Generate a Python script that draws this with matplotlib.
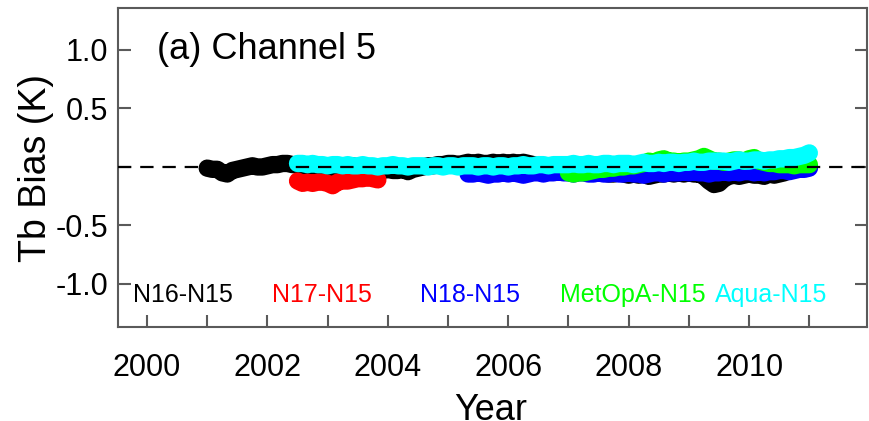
import numpy as np
import matplotlib
matplotlib.use("Agg")
import matplotlib.pyplot as plt
from matplotlib import font_manager

# ---------------- data (monthly values) ----------------
n16_start = 2001.0
n16 = [-0.01, -0.02, -0.02, -0.05, -0.06, -0.03, -0.02, -0.01, 0.00, 0.01, 0.00, 0.00,
       0.01, 0.02, 0.02, 0.03, 0.03, 0.02, 0.02, 0.01, 0.00, 0.00, 0.01, 0.00,
       -0.01, 0.00, 0.00, -0.01, 0.00, 0.01, 0.00, -0.01, -0.02, -0.03, -0.02, -0.03,
       -0.02, -0.03, -0.03, -0.02, -0.04, -0.02, -0.01, 0.00, 0.01, 0.01, 0.02, 0.02,
       0.03, 0.03, 0.02, 0.03, 0.04, 0.03, 0.04, 0.03, 0.03, 0.04, 0.03, 0.04,
       0.03, 0.04, 0.03, 0.04, 0.03, 0.02, 0.01, 0.00, 0.00, -0.01, -0.02, -0.02,
       -0.03, -0.03, -0.04, -0.04, -0.05, -0.05, -0.04, -0.05, -0.06, -0.06, -0.05, -0.06,
       -0.07, -0.06, -0.07, -0.06, -0.08, -0.07, -0.06, -0.06, -0.05, -0.06, -0.05, -0.06,
       -0.05, -0.06, -0.06, -0.08, -0.12, -0.15, -0.14, -0.10, -0.08, -0.07, -0.08, -0.07,
       -0.06, -0.07, -0.07, -0.08, -0.06, -0.07, -0.06, -0.05, -0.03, -0.02, -0.02, -0.01,
       0.00]

n17_start = 2002.5
n17 = [-0.12, -0.14, -0.13, -0.14, -0.13, -0.13, -0.14, -0.16, -0.13, -0.12,
       -0.12, -0.11, -0.10, -0.10, -0.09, -0.10, -0.11]

n18_start = 2005.0 + 4 / 12
n18 = [-0.06, -0.06, -0.05, -0.06, -0.07, -0.06, -0.06, -0.05,
       -0.06, -0.05, -0.06, -0.07, -0.06, -0.05, -0.05, -0.06, -0.05, -0.05, -0.04, -0.05,
       -0.05, -0.06, -0.05, -0.05, -0.06, -0.06, -0.05, -0.06, -0.06, -0.05, -0.06, -0.06,
       -0.05, -0.06, -0.06, -0.07, -0.06, -0.05, -0.05, -0.06, -0.05, -0.05, -0.05, -0.04,
       -0.05, -0.04, -0.05, -0.05, -0.06, -0.05, -0.05, -0.04, -0.05, -0.04, -0.05, -0.04,
       -0.04, -0.05, -0.04, -0.05, -0.04, -0.04, -0.03, -0.03, -0.04, -0.03, -0.02, -0.02,
       -0.01]

metopa_start = 2007.0
metopa = [-0.05, -0.06, -0.05, -0.05, -0.04, -0.03, -0.02, -0.02, -0.01, -0.01, 0.00, 0.00,
          0.01, 0.01, 0.02, 0.03, 0.05, 0.04, 0.06, 0.07, 0.05, 0.05, 0.04, 0.05,
          0.05, 0.06, 0.07, 0.09, 0.07, 0.05, 0.05, 0.04, 0.05, 0.06, 0.06, 0.05,
          0.07, 0.08, 0.05, 0.04, 0.03, 0.03, 0.02, 0.02, 0.02, 0.01, 0.02, 0.02,
          0.02]

aqua_start = 2002.5
aqua = [0.03, 0.03, 0.02, 0.03, 0.02, 0.02, 0.01, 0.02, 0.02, 0.01, 0.02, 0.01,
        0.01, 0.02, 0.01, 0.01, 0.00, 0.01, 0.01, 0.02, 0.01, 0.01, 0.00, 0.01,
        0.01, 0.01, 0.00, 0.01, 0.01, 0.00, 0.01, 0.01, 0.00, 0.01, 0.01, 0.01,
        0.00, 0.01, 0.01, 0.00, 0.01, 0.01, 0.00, 0.01, 0.01, 0.02, 0.01, 0.01,
        0.02, 0.02, 0.01, 0.02, 0.02, 0.02, 0.02, 0.03, 0.02, 0.02, 0.03, 0.02,
        0.02, 0.03, 0.03, 0.02, 0.03, 0.03, 0.03, 0.02, 0.03, 0.04, 0.03, 0.03,
        0.04, 0.03, 0.04, 0.04, 0.03, 0.04, 0.04, 0.05, 0.04, 0.04, 0.05, 0.05,
        0.05, 0.05, 0.04, 0.05, 0.06, 0.05, 0.05, 0.06, 0.06, 0.05, 0.06, 0.06,
        0.07, 0.07, 0.08, 0.08, 0.09, 0.10, 0.12]

series_names = ["N16-N15", "N17-N15", "N18-N15", "MetOpA-N15", "Aqua-N15"]
series_colors = ["#000000", "#FF0000", "#0000FF", "#00FF00", "#00FFFF"]
series_values = [n16, n17, n18, metopa, aqua]
series_starts = [n16_start, n17_start, n18_start, metopa_start, aqua_start]
label_x = [1999.77, 2002.08, 2004.54, 2006.86, 2009.44]

year_ticks = list(range(2000, 2012))
year_labels = [str(y) if y % 2 == 0 else "" for y in year_ticks]
bias_ticks = [-1.0, -0.5, 0.0, 0.5, 1.0]
bias_labels = ["-1.0", "-0.5", "", "0.5", "1.0"]

# ---------------- fonts ----------------
avail = {f.name for f in font_manager.fontManager.ttflist}
regular = "Liberation Sans" if "Liberation Sans" in avail else "DejaVu Sans"

# ---------------- figure ----------------
W, H = 869, 421
fig = plt.figure(figsize=(W / 100, H / 100), dpi=100)
L, R, T, B = 118.3, 867.3, 8.3, 326.7
ax = fig.add_axes([L / W, 1 - B / H, (R - L) / W, (B - T) / H])

for vals, start, col in zip(series_values, series_starts, series_colors):
    x = start + np.arange(len(vals)) / 12.0
    ax.plot(x, vals, color=col, lw=12.5, solid_capstyle="round",
            solid_joinstyle="round", zorder=2)

ax.axhline(0, color="black", lw=1.6, dashes=(6, 4), zorder=5)

ax.set_xlim(1999.523, 2011.963)
ax.set_ylim(-1.365, 1.356)

for sp in ax.spines.values():
    sp.set_color("#5a5a5a")
    sp.set_linewidth(1.5)

ax.set_xticks(year_ticks)
ax.set_xticklabels(year_labels, fontfamily=regular, fontsize=22)
ax.set_yticks(bias_ticks)
ax.set_yticklabels(bias_labels, fontfamily=regular, fontsize=22)
ax.tick_params(axis="x", direction="in", length=9, width=1.5, color="#5a5a5a", pad=19, top=False)
ax.tick_params(axis="y", direction="in", length=9, width=1.5, color="#5a5a5a", pad=7,
               left=True, right=True)

for name, col, lx in zip(series_names, series_colors, label_x):
    ax.text(lx, -1.094, name, color=col, fontfamily=regular, fontsize=18,
            ha="left", va="center")

ax.text(0.0517, 0.9256, "(a) Channel 5", transform=ax.transAxes, fontfamily=regular,
        fontsize=26, ha="left", va="top")

fig.text(36.5 / W, 1 - 168.5 / H, "Tb Bias (K)", rotation=90, fontfamily=regular,
         fontsize=27, ha="center", va="center")
fig.text(491 / W, 1 - 393 / H, "Year", fontfamily=regular, fontsize=26, ha="center", va="top")

fig.savefig("out.png", dpi=100)
